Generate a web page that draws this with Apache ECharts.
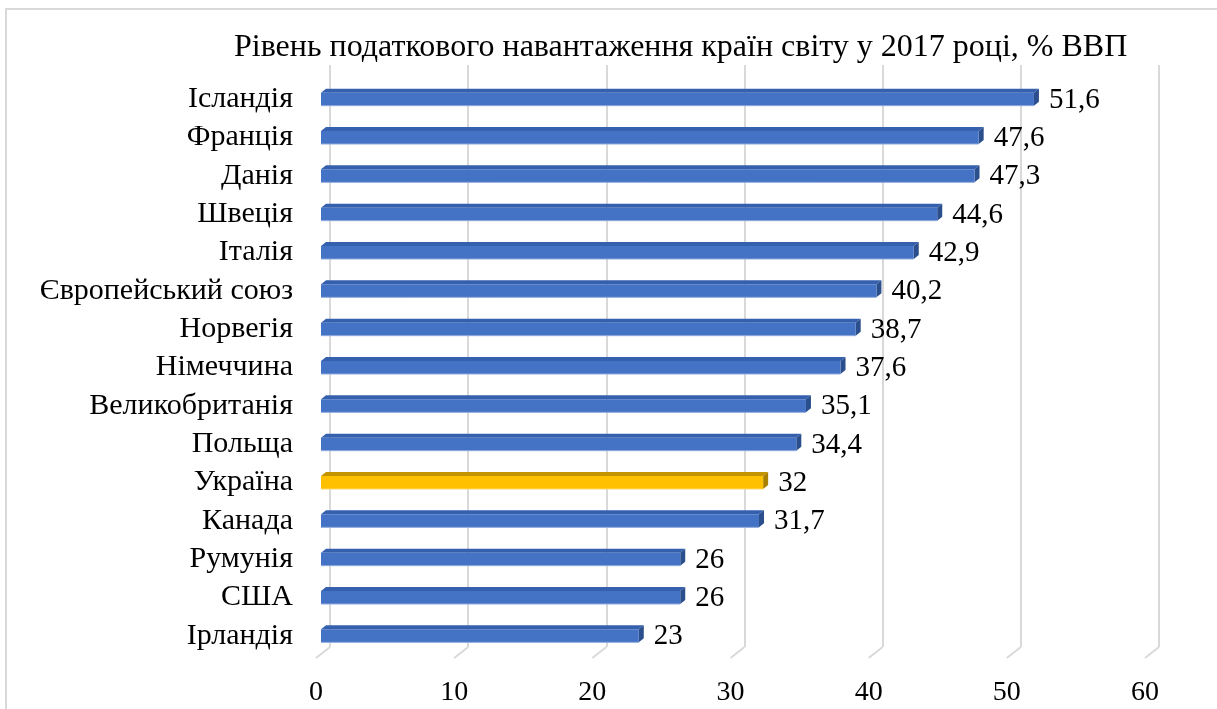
<!DOCTYPE html>
<html>
<head>
<meta charset="utf-8">
<script src="https://cdn.jsdelivr.net/npm/echarts@6/dist/echarts.min.js"></script>
<style>html,body{margin:0;padding:0;background:#fff}#c{width:1217px;height:709px}</style>
</head>
<body>
<div id="c"></div>
<script>
var titleText = 'Рівень податкового навантаження країн світу у 2017 році, % ВВП';
var categories = ['Ісландія','Франція','Данія','Швеція','Італія','Європейський союз','Норвегія','Німеччина','Великобританія','Польща','Україна','Канада','Румунія','США','Ірландія'];
var values = [51.6, 47.6, 47.3, 44.6, 42.9, 40.2, 38.7, 37.6, 35.1, 34.4, 32, 31.7, 26, 26, 23];
var highlighted = ['Україна'];
var xTicks = [0, 10, 20, 30, 40, 50, 60];

var FONT = "'Liberation Serif','Times New Roman',serif";
var chart = echarts.init(document.getElementById('c'));

var barData = values.map(function (v, i) { return [v, i]; });
var tickData = xTicks.map(function (t) { return [t, 0]; });

function fmt(v) { return String(v).replace('.', ','); }

chart.setOption({
  animation: false,
  title: {
    text: titleText, left: 229, top: 27,
    textStyle: { fontFamily: FONT, fontSize: 32, fontWeight: 'normal', color: '#000' }
  },
  graphic: [{
    type: 'rect', shape: { x: 6, y: 9, width: 1400, height: 900 },
    style: { fill: 'none', stroke: '#d9d9d9', lineWidth: 2 }, z: -10
  }],
  grid: [
    { left: 330, right: 58, top: 65, bottom: 62 },
    { left: 321, right: 67, top: 80, bottom: 54 },
    { left: 316, right: 72, top: 65, bottom: 51 }
  ],
  xAxis: [
    { gridIndex: 0, type: 'value', min: 0, max: 60, interval: 10,
      axisLine: { show: false }, axisTick: { show: false }, axisLabel: { show: false },
      splitLine: { show: true, lineStyle: { color: '#d9d9d9', width: 2 } } },
    { gridIndex: 1, type: 'value', min: 0, max: 60, interval: 10,
      axisLine: { show: false }, axisTick: { show: false }, axisLabel: { show: false },
      splitLine: { show: false } },
    { gridIndex: 2, type: 'value', min: 0, max: 60, interval: 10,
      axisLine: { show: false }, axisTick: { show: false }, splitLine: { show: false },
      axisLabel: { show: true, margin: 21, fontFamily: FONT, fontSize: 28, color: '#000' } }
  ],
  yAxis: [
    { gridIndex: 0, type: 'category', data: categories, inverse: true, show: false },
    { gridIndex: 1, type: 'category', data: categories, inverse: true,
      axisLine: { show: false }, axisTick: { show: false }, splitLine: { show: false },
      axisLabel: { interval: 0, margin: 28, padding: [6, 0, 0, 0], fontFamily: FONT, fontSize: 30, color: '#000' } },
    { gridIndex: 2, type: 'value', min: 0, max: 1, show: false }
  ],
  series: [
    {
      type: 'custom', xAxisIndex: 2, yAxisIndex: 2, data: tickData, silent: true,
      renderItem: function (params, api) {
        var p = api.coord([api.value(0), 0]);
        return { type: 'line', shape: { x1: p[0], y1: p[1], x2: p[0] + 14, y2: p[1] - 11 },
          style: { stroke: '#d9d9d9', lineWidth: 2 } };
      }
    },
    {
      type: 'custom', xAxisIndex: 1, yAxisIndex: 1, data: barData, silent: true,
      renderItem: function (params, api) {
        var v = api.value(0), c = api.value(1);
        var p0 = api.coord([0, c]);
        var p1 = api.coord([v, c]);
        var h = 13, dx = 5, dy = 4;
        var yT = p0[1] - h / 2, yB = p0[1] + h / 2;
        var hi = highlighted.indexOf(categories[c]) >= 0;
        var front = hi ? '#FFC000' : '#4472C4';
        var top = hi ? '#C49400' : '#3560AE';
        var side = hi ? '#A97F00' : '#2B4E8C';
        return {
          type: 'group',
          children: [
            { type: 'polygon', shape: { points: [[p0[0], yT], [p0[0] + dx, yT - dy], [p1[0] + dx, yT - dy], [p1[0], yT]] },
              style: { fill: top } },
            { type: 'polygon', shape: { points: [[p1[0], yT], [p1[0] + dx, yT - dy], [p1[0] + dx, yB - dy], [p1[0], yB]] },
              style: { fill: side } },
            { type: 'rect', shape: { x: p0[0], y: yT, width: p1[0] - p0[0], height: h },
              style: { fill: front } },
            { type: 'line', shape: { x1: p0[0], y1: yB, x2: p1[0], y2: yB },
              style: { stroke: hi ? '#FFD966' : '#8FAADC', lineWidth: 1 } },
            { type: 'text', x: p1[0] + dx + 10, y: p0[1] + 1,
              style: { text: fmt(v), fontFamily: FONT, fontSize: 29, fill: '#000', verticalAlign: 'middle', align: 'left' } }
          ]
        };
      }
    }
  ]
});
</script>
</body>
</html>
